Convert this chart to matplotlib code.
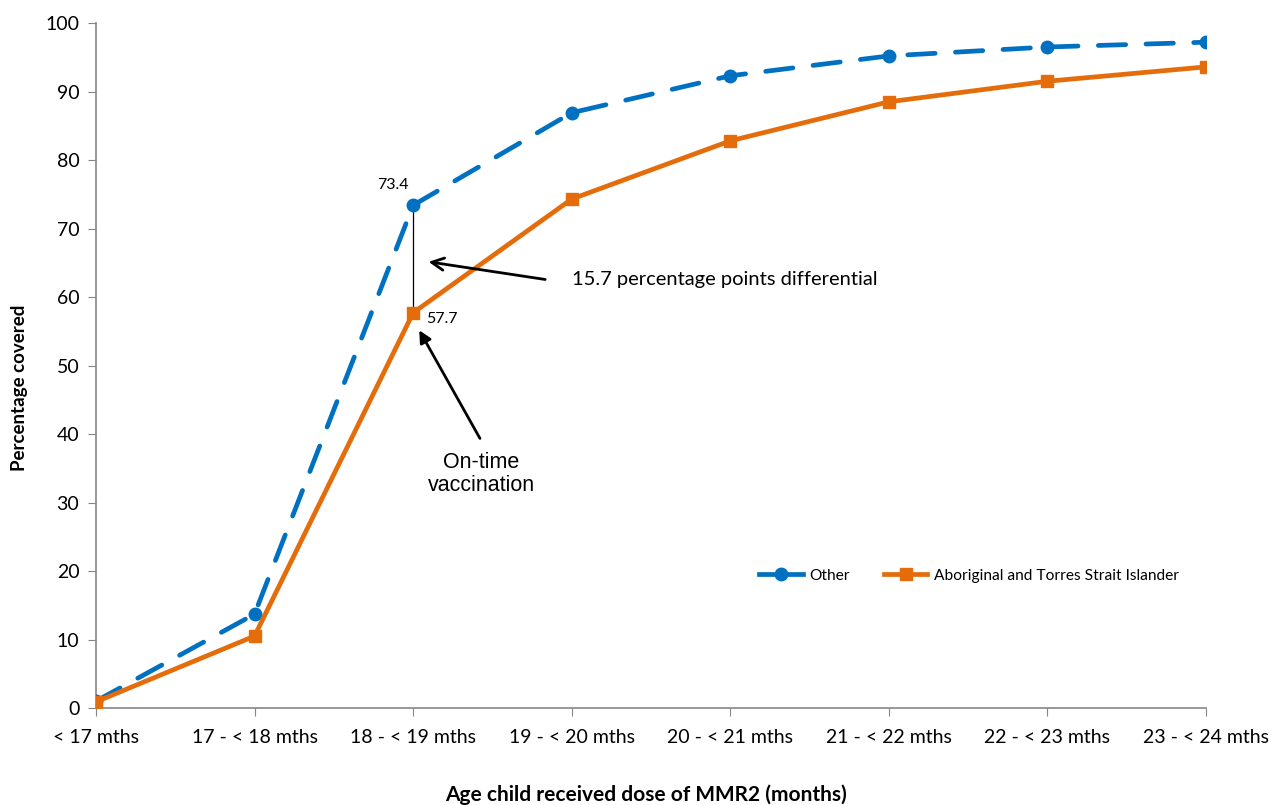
import matplotlib.pyplot as plt

# Data
categories = ['< 17 mths', '17 - < 18 mths', '18 - < 19 mths', '19 - < 20 mths',
              '20 - < 21 mths', '21 - < 22 mths', '22 - < 23 mths', '23 - < 24 mths']
other = [1.0, 13.7, 73.4, 86.9, 92.3, 95.2, 96.5, 97.2]
aboriginal = [0.9, 10.5, 57.7, 74.3, 82.8, 88.5, 91.5, 93.6]

plt.rcParams['font.family'] = ['Lato', 'DejaVu Sans']

blue = '#0070C0'
orange = '#E46C0A'
gray = '#868686'

fig = plt.figure(figsize=(12.71, 8.05), dpi=100)
ax = fig.add_axes([0.0755, 0.1205, 0.8734, 0.8509])

x = list(range(len(categories)))
ax.plot(x, other, color=blue, lw=3.4, dashes=(5.8, 4.3), dash_capstyle='round',
        marker='o', ms=9, label='Other', zorder=3)
ax.plot(x, aboriginal, color=orange, lw=3.4, marker='s', ms=9,
        label='Aboriginal and Torres Strait Islander', zorder=3)

ax.set_xlim(0, 7)
ax.set_ylim(0, 100)
ax.set_xticks(x)
ax.set_xticklabels(categories, fontsize=14)
ax.set_yticks(range(0, 101, 10))
ax.tick_params(axis='y', labelsize=14, length=6, color=gray, pad=6)
ax.tick_params(axis='x', length=6, color=gray, pad=9)
for s in ['top', 'right']:
    ax.spines[s].set_visible(False)
for s in ['left', 'bottom']:
    ax.spines[s].set_color(gray)
    ax.spines[s].set_linewidth(1.2)
for lbl in ax.get_xticklabels():
    lbl.set_clip_on(False)

ax.set_ylabel('Percentage covered', fontsize=13.5, fontweight='bold')
ax.yaxis.set_label_coords(-0.0615, 0.467)
fig.text(0.508, 0.0, 'Age child received dose of MMR2 (months)', fontsize=15,
         fontweight='bold', ha='center', va='bottom')

# Annotations
ax.plot([2, 2], [aboriginal[2], other[2]], color='black', lw=0.9, zorder=2)
ax.text(1.97, other[2] + 2.0, '73.4', fontsize=11.5, ha='right', va='bottom')
ax.text(2.08, aboriginal[2] - 0.9, '57.7', fontsize=11.5, ha='left', va='center')
ax.annotate('', xy=(2.08, 65.2), xytext=(2.85, 62.5),
            arrowprops=dict(arrowstyle='->', color='black', lw=2, mutation_scale=22))
ax.text(3.0, 62.6, '15.7 percentage points differential', fontsize=14.5, va='center')
ax.annotate('', xy=(2.03, 55.5), xytext=(2.43, 39.0),
            arrowprops=dict(arrowstyle='-|>', color='black', lw=2, mutation_scale=18))
ax.text(2.43, 34.2, 'On-time\nvaccination', fontsize=15.5, ha='center', va='center',
        family=['Liberation Sans', 'DejaVu Sans'], linespacing=1.15)

leg = ax.legend(loc='center left', bbox_to_anchor=(0.585, 0.193), ncol=2, frameon=False,
                fontsize=11.2, handlelength=2.8, columnspacing=2.2, handletextpad=0.4)
for h in leg.legend_handles:
    h.set_linestyle('-')

fig.savefig('out.png', dpi=100)
